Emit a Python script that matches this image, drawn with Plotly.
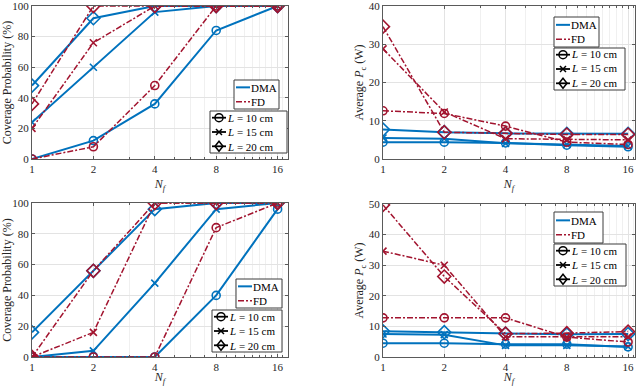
import math
import plotly.graph_objects as go

Nf = [1, 2, 4, 8, 16]
x_ticks = [1, 2, 4, 8, 16]
x_tick_labels = ["1", "2", "4", "8", "16"]
method_labels = ["DMA", "FD"]
L_labels = ["<i>L</i> = 10 cm", "<i>L</i> = 15 cm", "<i>L</i> = 20 cm"]

# Panel A (top-left): coverage probability (%)
covA_dma_10 = [0, 12, 36, 84, 100]
covA_dma_15 = [24, 60, 96, 100, 100]
covA_dma_20 = [48, 92, 100, 100, 100]
covA_fd_10 = [0, 8, 48, 100, 100]
covA_fd_15 = [20, 76, 100, 100, 100]
covA_fd_20 = [36, 100, 100, 100, 100]

# Panel B (top-right): average Pc (W)
pwrB_dma_10 = [4.4, 4.4, 4.2, 3.6, 3.2]
pwrB_dma_15 = [5.5, 5.3, 4.1, 3.8, 3.4]
pwrB_dma_20 = [7.7, 7.0, 6.7, 6.6, 6.6]
pwrB_fd_10 = [12.6, 11.9, 8.6, 4.4, 3.8]
pwrB_fd_15 = [28.8, 12.3, 5.3, 5.1, 5.0]
pwrB_fd_20 = [34.6, 7.0, 6.7, 6.4, 6.4]

# Panel C (bottom-left): coverage probability (%)
covC_dma_10 = [0, 0, 0, 40, 96]
covC_dma_15 = [0, 4, 48, 96, 100]
covC_dma_20 = [16, 56, 96, 100, 100]
covC_fd_10 = [0, 0, 0, 84, 100]
covC_fd_15 = [0, 16, 100, 100, 100]
covC_fd_20 = [0, 56, 100, 100, 100]

# Panel D (bottom-right): average Pc (W)
pwrD_dma_10 = [4.5, 4.5, 4.2, 4.2, 3.3]
pwrD_dma_15 = [7.5, 7.3, 3.8, 3.8, 3.4]
pwrD_dma_20 = [8.4, 8.1, 7.6, 7.4, 7.5]
pwrD_fd_10 = [12.8, 12.8, 12.8, 6.5, 4.9]
pwrD_fd_15 = [34.6, 30.0, 6.6, 6.5, 6.6]
pwrD_fd_20 = [49.7, 26.3, 7.6, 7.8, 8.3]

BLUE = "#0072BD"
RED = "#A2142F"
FONT = "Liberation Serif"
TXT = "#262626"
FRAME = "#5a5a5a"
GRID = "#e3e3e3"
MGRID = "#f0f0f0"
FD_DASH = "6px,2px,2px,2px"
symbols = ["circle-open", "x-thin-open", "diamond-open"]
msizes = [8, 7, 10]
LEG_FS = 11
ROW = LEG_FS * 1.3

panels = [
    dict(dma=[covA_dma_10, covA_dma_15, covA_dma_20], fd=[covA_fd_10, covA_fd_15, covA_fd_20]),
    dict(dma=[pwrB_dma_10, pwrB_dma_15, pwrB_dma_20], fd=[pwrB_fd_10, pwrB_fd_15, pwrB_fd_20]),
    dict(dma=[covC_dma_10, covC_dma_15, covC_dma_20], fd=[covC_fd_10, covC_fd_15, covC_fd_20]),
    dict(dma=[pwrD_dma_10, pwrD_dma_15, pwrD_dma_20], fd=[pwrD_fd_10, pwrD_fd_15, pwrD_fd_20]),
]

W, H = 640, 386
def px(v):
    return v / W
def py(v):
    return 1 - v / H

# axes geometry (pixels) and upper x limit
geo = [
    dict(x0=32, x1=288, y0=6, y1=159, xmax=18.0),
    dict(x0=383, x1=635, y0=6, y1=159, xmax=17.3),
    dict(x0=32, x1=288, y0=203, y1=357, xmax=18.0),
    dict(x0=383, x1=635, y0=204, y1=357, xmax=17.3),
]
yranges = [[0, 100], [0, 40], [0, 100], [0, 50]]
yticks = [[0, 20, 40, 60, 80, 100], [0, 10, 20, 30, 40], [0, 20, 40, 60, 80, 100], [0, 10, 20, 30, 40, 50]]
ytitles = ["Coverage Probability (%)", "Average <i>P</i><sub>c</sub> (W)",
           "Coverage Probability (%)", "Average <i>P</i><sub>c</sub> (W)"]
# legend boxes in pixels: method box (x0,y0,x1,y1) and L box
legboxes = [
    ((234, 80, 279, 109), (210, 111, 287, 153)),
    ((554, 17, 599, 47), (554, 48, 625, 90)),
    ((236, 279, 282, 308), (212, 310, 282, 352)),
    ((554, 212, 603, 243), (554, 244, 626, 286)),
]

fig = go.Figure()
layout = dict(
    width=W, height=H, margin=dict(l=0, r=0, t=0, b=0),
    paper_bgcolor="white", plot_bgcolor="white", showlegend=False,
    font=dict(family=FONT, size=11, color=TXT),
    template="none",
)
shapes = []
annotations = []

def add_line(x0, y0, x1, y1, color, width, dash="solid"):
    shapes.append(dict(type="line", xref="paper", yref="paper", x0=px(x0), y0=py(y0), x1=px(x1), y1=py(y1),
                       line=dict(color=color, width=width, dash=dash)))

def add_marker(kind, cx, cy):
    if kind == 0:
        r = 4
        shapes.append(dict(type="circle", xref="paper", yref="paper", x0=px(cx - r), x1=px(cx + r),
                           y0=py(cy + r), y1=py(cy - r), line=dict(color="black", width=1.5),
                           fillcolor="rgba(0,0,0,0)"))
    elif kind == 1:
        s = 3
        add_line(cx - s, cy - s, cx + s, cy + s, "black", 1.5)
        add_line(cx - s, cy + s, cx + s, cy - s, "black", 1.5)
    else:
        a, b = 4, 5
        path = "M {} {} L {} {} L {} {} L {} {} Z".format(
            px(cx), py(cy - b), px(cx + a), py(cy), px(cx), py(cy + b), px(cx - a), py(cy))
        shapes.append(dict(type="path", xref="paper", yref="paper", path=path,
                           line=dict(color="black", width=1.5), fillcolor="rgba(0,0,0,0)"))

def add_text_block(lines, x, ycenter):
    annotations.append(dict(text="<br>".join(lines), xref="paper", yref="paper", x=px(x), y=py(ycenter),
                            xanchor="left", yanchor="middle", align="left", showarrow=False, borderpad=0,
                            font=dict(family=FONT, size=LEG_FS, color="black")))

for i, p in enumerate(panels):
    k = "" if i == 0 else str(i + 1)
    xa, ya = "x" + k, "y" + k
    for j in range(3):
        fig.add_trace(go.Scatter(x=Nf, y=p["dma"][j], xaxis=xa, yaxis=ya, mode="lines+markers",
                                 name="DMA", line=dict(color=BLUE, width=2),
                                 marker=dict(symbol=symbols[j], size=msizes[j], color=BLUE,
                                             line=dict(width=1.6, color=BLUE))))
    for j in range(3):
        fig.add_trace(go.Scatter(x=Nf, y=p["fd"][j], xaxis=xa, yaxis=ya, mode="lines+markers",
                                 name="FD", line=dict(color=RED, width=1.5, dash=FD_DASH),
                                 marker=dict(symbol=symbols[j], size=msizes[j], color=RED,
                                             line=dict(width=1.6, color=RED))))
    g = geo[i]
    layout["xaxis" + k] = dict(
        type="log", domain=[px(g["x0"]), px(g["x1"])], anchor=ya, automargin=False,
        range=[0, math.log10(g["xmax"])], tickmode="array", tickvals=x_ticks, ticktext=x_tick_labels,
        showgrid=True, gridcolor=GRID, gridwidth=1,
        showline=True, linecolor=FRAME, linewidth=1, mirror="ticks",
        ticks="inside", ticklen=3, tickcolor=FRAME, zeroline=False,
        minor=dict(tickvals=[3, 5, 6, 7, 9, 10, 11, 12, 13, 14, 15, 17], ticks="inside", ticklen=2,
                   tickcolor=FRAME, showgrid=True, gridcolor=MGRID),
        title=dict(text="<i>N<sub>f</sub></i>", font=dict(size=12, color=TXT), standoff=5),
        tickfont=dict(size=11, color=TXT), ticklabeloverflow="allow",
    )
    layout["yaxis" + k] = dict(
        domain=[py(g["y1"]), py(g["y0"])], anchor=xa, range=yranges[i],
        tickmode="array", tickvals=yticks[i],
        automargin=False,
        showgrid=True, gridcolor=GRID, gridwidth=1,
        showline=True, linecolor=FRAME, linewidth=1, mirror="ticks",
        ticks="inside", ticklen=3, tickcolor=FRAME, zeroline=False,
        title=dict(text=ytitles[i], font=dict(size=12, color=TXT), standoff=2),
        tickfont=dict(size=11, color=TXT), ticklabeloverflow="allow",
    )

    # legends (drawn as layout decoration inside each axes)
    (m0x, m0y, m1x, m1y), (l0x, l0y, l1x, l1y) = legboxes[i]
    shapes.append(dict(type="rect", xref="paper", yref="paper", x0=px(m0x), x1=px(m1x), y0=py(m1y), y1=py(m0y),
                       line=dict(color="#3c3c3c", width=1), fillcolor="white", layer="above"))
    shapes.append(dict(type="rect", xref="paper", yref="paper", x0=px(l0x), x1=px(l1x), y0=py(l1y), y1=py(l0y),
                       line=dict(color="#3c3c3c", width=1), fillcolor="white", layer="above"))
    mc = (m0y + m1y) / 2
    mrows = [mc - ROW / 2, mc + ROW / 2]
    add_line(m0x + 2, mrows[0], m0x + 16, mrows[0], BLUE, 2)
    add_line(m0x + 2, mrows[1], m0x + 16, mrows[1], RED, 1.5, FD_DASH)
    add_text_block(method_labels, m0x + 16, mc)
    lc = (l0y + l1y) / 2
    lrows = [lc - ROW, lc, lc + ROW]
    for j in range(3):
        add_line(l0x + 2, lrows[j], l0x + 16, lrows[j], "black", 1.8)
        add_marker(j, l0x + 9, lrows[j])
    add_text_block(L_labels, l0x + 16, lc)

layout["shapes"] = shapes
layout["annotations"] = annotations
fig.update_layout(**layout)
fig.write_html("out.html", config={"displayModeBar": False},
               post_script="document.body.style.margin='0px';document.body.style.padding='0px';")
